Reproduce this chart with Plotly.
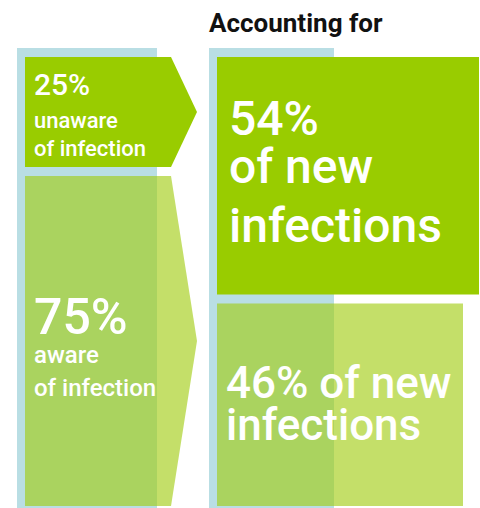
import plotly.graph_objects as go

# ---- data ----
awareness_share = [25, 75]              # % of people living with HIV
awareness_labels = ["unaware", "aware"]
new_infection_share = [54, 46]          # % of new infections accounted for
title_text = "Accounting for"

# ---- styling ----
BLUE = "#B9DEE4"
DARK_GREEN = "#99CC00"
LIGHT_GREEN = "rgba(161,204,17,0.63)"
FONT = "Roboto, 'Open Sans', 'DejaVu Sans', sans-serif"
W, H = 480, 508
TOP, BOTTOM, GAP = 57, 506, 9

def split(shares):
    avail = BOTTOM - TOP - GAP
    a = TOP + avail * shares[0] / sum(shares)
    return (TOP, a), (a + GAP, BOTTOM)

(lt0, lt1), (lb0, lb1) = split(awareness_share)
(rt0, rt1), (rb0, rb1) = split(new_infection_share)

fig = go.Figure()

def poly(xs, ys, color):
    fig.add_trace(go.Scatter(x=xs + [xs[0]], y=ys + [ys[0]], mode="lines",
                             fill="toself", fillcolor=color,
                             line=dict(width=0, color="rgba(0,0,0,0)"),
                             hoverinfo="skip", showlegend=False))

def rect(x0, x1, y0, y1, color):
    poly([x0, x1, x1, x0], [y0, y0, y1, y1], color)

def arrow(x0, x1, xt, y0, y1, color):
    poly([x0, x1, xt, x1, x0], [y0, y0, (y0 + y1) / 2, y1, y1], color)

# blue column backgrounds
rect(17, 157, 48, H, BLUE)
rect(209, 334, 48, H, BLUE)

# left column: awareness arrows
arrow(25, 171, 197, lt0, lt1, DARK_GREEN)
arrow(25, 171, 197, lb0, lb1, LIGHT_GREEN)

# right column: share of new infections
rect(217, 479, rt0, rt1, DARK_GREEN)
rect(217, 463, rb0, rb1, LIGHT_GREEN)

def text(x, baseline, s, size, color="white", weight=500):
    fig.add_annotation(x=x, y=baseline - 0.34 * size, text=s, showarrow=False,
                       xanchor="left", yanchor="middle", xref="x", yref="y",
                       font=dict(family=FONT, size=size, color=color,
                                 weight=weight))

text(207, 32, title_text, 26, color="#111111", weight="bold")

# left top
text(32, lt0 + 38, f"{awareness_share[0]}%", 30)
text(32, lt0 + 71, awareness_labels[0], 22)
text(32, lt0 + 99, "of infection", 22)

# left bottom
lm = (lb0 + lb1) / 2
text(32, lm - 7.5, f"{awareness_share[1]}%", 50)
text(32, lm + 22.5, awareness_labels[1], 24)
text(32, lm + 55.5, "of infection", 24)

# right top
text(227, rt0 + 78, f"{new_infection_share[0]}%", 48)
text(227, rt0 + 126, "of new", 48)
text(227, rt0 + 185, "infections", 48)

# right bottom
rm = (rb0 + rb1) / 2
text(224, rm - 7, f"{new_infection_share[1]}% of new", 44)
text(224, rm + 35, "infections", 44)

fig.update_layout(
    width=W, height=H, margin=dict(l=0, r=0, t=0, b=0),
    paper_bgcolor="white", plot_bgcolor="white",
    xaxis=dict(range=[0, W], visible=False, fixedrange=True),
    yaxis=dict(range=[H, 0], visible=False, fixedrange=True),
    showlegend=False,
)

fig.write_html("out.html", config={"displayModeBar": False},
               post_script="document.body.style.margin='0';document.body.style.padding='0';")
